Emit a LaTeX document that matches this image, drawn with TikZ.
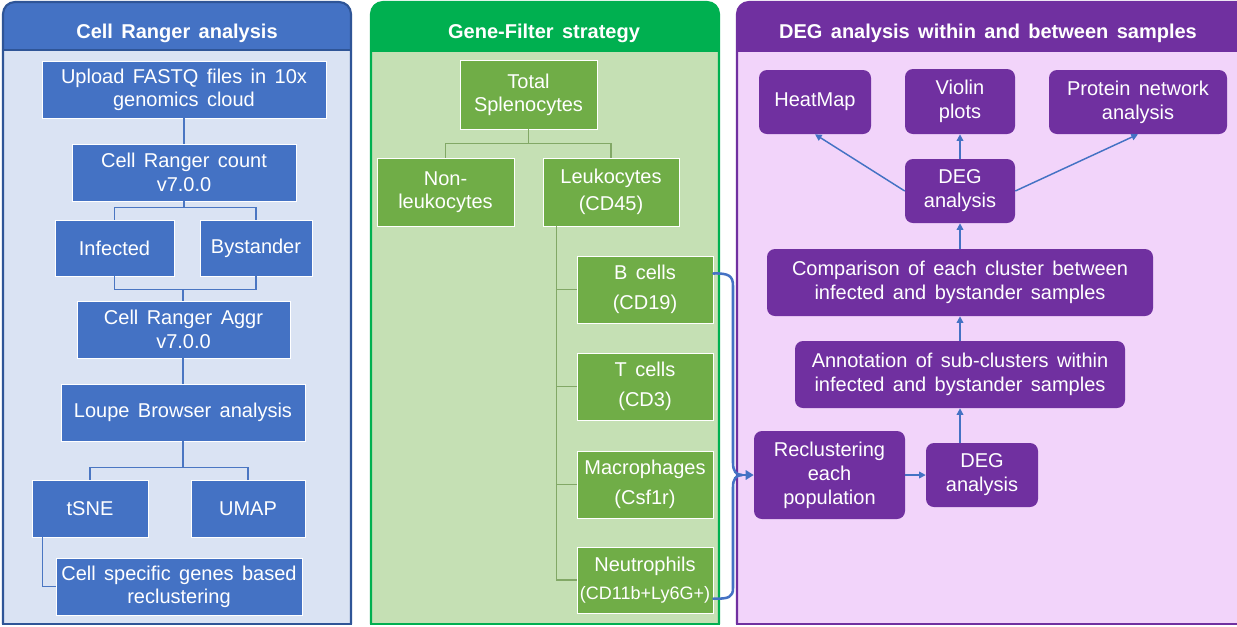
\documentclass[tikz,border=0pt]{standalone}
\usepackage{fontspec}
\setmainfont{Liberation Sans}
\usetikzlibrary{arrows.meta}

\definecolor{bHead}{HTML}{4472C4}
\definecolor{bBody}{HTML}{DAE3F3}
\definecolor{bEdge}{HTML}{2F5597}
\definecolor{bNode}{HTML}{4472C4}
\definecolor{bLine}{HTML}{4A76C2}
\definecolor{gHead}{HTML}{00B050}
\definecolor{gBody}{HTML}{C5E0B4}
\definecolor{gNode}{HTML}{70AD47}
\definecolor{gLine}{HTML}{82A866}
\definecolor{pHead}{HTML}{7030A0}
\definecolor{pBody}{HTML}{F2D4FA}
\definecolor{pNode}{HTML}{7030A0}
\definecolor{arrowBlue}{HTML}{4472C4}

% box placed by its corner coordinates: [style]{name}{x1}{y1}{x2}{y2}{text}
\newcommand\boxnode[7][]{%
  \node[#1, minimum width={(#5-#3)*0.75pt}, minimum height={(#6-#4)*0.75pt}]
    (#2) at ({(#3+#5)/2},{(#4+#6)/2}) {#7};}
% slightly wider word spacing
\newcommand\widewords{\spaceskip=0.42em plus 0.05em\relax}

\tikzset{
  headtext/.style={anchor=base, text=white, inner sep=0pt,
    font=\fontsize{15}{18}\selectfont\bfseries\widewords},
  basebox/.style={text=white, align=center, inner sep=0pt,
    font=\fontsize{15}{17.5}\selectfont\widewords},
  bluebox/.style={basebox, fill=bNode, draw=white, line width=0.6pt},
  greenbox/.style={basebox, fill=gNode, draw=white, line width=0.6pt},
  purplebox/.style={basebox, fill=pNode, rounded corners=6pt,
    font=\fontsize{15}{18}\selectfont\widewords},
  bconn/.style={draw=bLine, line width=0.8pt},
  gconn/.style={draw=gLine, line width=0.8pt},
  parrow/.style={draw=arrowBlue, line width=1.1pt,
    -{Triangle[length=5pt,width=5pt]}},
  bracepath/.style={draw=arrowBlue, line width=1.9pt, line cap=round},
}

\begin{document}
\begin{tikzpicture}[x=0.75pt, y=-0.75pt]
\useasboundingbox (0,0) rectangle (1237,626);
\clip (0,0) rectangle (1237,626);
\fill[white] (0,0) rectangle (1237,626);

% ---- panel 1: Cell Ranger analysis
\fill[bHead, rounded corners=9pt] (3,70) -- (3,2) -- (351,2) -- (351,70) -- cycle;
\fill[bBody] (3,50) rectangle (351,624);
\draw[bEdge, line width=1.4pt] (3,50) -- (351,50);
\draw[bEdge, line width=1.6pt, rounded corners=9pt] (3,624) -- (3,2) -- (351,2) -- (351,624);
\draw[bEdge, line width=1.6pt, line cap=rect] (3,624) -- (351,624);
\node[headtext] (h1) at (177,38) {Cell Ranger analysis};

% ---- panel 2: Gene-Filter strategy
\fill[gHead, rounded corners=9pt] (371,70) -- (371,2) -- (719,2) -- (719,70) -- cycle;
\fill[gBody] (371,52) rectangle (719,624);
\draw[gHead, line width=1.6pt, rounded corners=9pt] (371,624) -- (371,2) -- (719,2) -- (719,624);
\draw[gHead, line width=1.6pt, line cap=rect] (371,624) -- (719,624);
\node[headtext] (h2) at (544,38) {Gene-Filter strategy};

% ---- panel 3: DEG analysis
\fill[pHead, rounded corners=9pt] (737,70) -- (737,2) -- (1250,2) -- (1250,70) -- cycle;
\fill[pBody] (737,52) rectangle (1250,624);
\draw[pHead, line width=1.6pt, rounded corners=9pt] (737,624) -- (737,2) -- (1250,2) -- (1250,624);
\draw[pHead, line width=1.6pt, line cap=rect] (737,624) -- (1250,624);
\node[headtext] (h3) at (988,38) {DEG analysis within and between samples};

% ---- Cell Ranger boxes
\boxnode[bluebox]{up}{42}{61}{326}{118}{Upload FASTQ files in 10x\\genomics cloud}
\boxnode[bluebox]{count}{72}{144}{296}{201}{Cell Ranger count\\v7.0.0}
\boxnode[bluebox]{inf}{55}{220}{174}{276}{Infected}
\boxnode[bluebox]{bys}{200}{220}{312}{276}{Bystander}
\boxnode[bluebox]{aggr}{77}{301}{290}{358}{Cell Ranger Aggr\\v7.0.0}
\boxnode[bluebox]{loupe}{61}{384}{305}{441}{Loupe Browser analysis}
\boxnode[bluebox]{tsne}{32}{480}{148}{537}{tSNE}
\boxnode[bluebox]{umap}{191}{480}{305}{537}{UMAP}
\boxnode[bluebox]{cell}{56}{558}{302}{615}{Cell specific genes based\\reclustering}

\draw[bconn] (up.south) -- (up.south |- count.north);
\draw[bconn] (count.south) -- ++(0,6) coordinate (cfork);
\draw[bconn] (inf.north) |- (cfork) -| (bys.north);
\draw[bconn] (loupe.north |- aggr.north) -- ++(0,-11) coordinate (ajoin);
\draw[bconn] (inf.south) |- (ajoin) -| (bys.south);
\draw[bconn] (loupe.north |- aggr.south) -- (loupe.north);
\draw[bconn] (loupe.south) -- ++(0,26) coordinate (lfork);
\draw[bconn] (tsne.north) |- (lfork) -| (umap.north);
\draw[bconn] ([xshift=8.25pt]tsne.south west) |- (cell.west);

% ---- Gene-Filter boxes
\boxnode[greenbox]{total}{460}{60}{597}{129}{Total\\Splenocytes}
\boxnode[greenbox]{nonl}{377}{158}{514}{226}{Non-\\leukocytes}
\boxnode[greenbox]{leuk}{543}{158}{679}{226}{Leukocytes\\[3pt](CD45)}
\boxnode[greenbox]{bc}{577}{256}{713}{323}{B cells\\[5pt](CD19)}
\boxnode[greenbox]{tc}{577}{353}{713}{420}{T cells\\[5pt](CD3)}
\boxnode[greenbox]{mac}{577}{451}{713}{518}{Macrophages\\[5pt](Csf1r)}
\boxnode[greenbox]{neu}{577}{547}{713}{613}{Neutrophils\\[3pt]{\fontsize{13.5}{16}\selectfont(CD11b+Ly6G+)}}

\draw[gconn] (total.south) -- ++(0,14) coordinate (tfork);
\draw[gconn] (nonl.north) |- (tfork) -| (leuk.north);
\coordinate (trunk) at ([xshift=10.5pt]leuk.south west);
\draw[gconn] (trunk) |- (neu.west);
\draw[gconn] (trunk) |- (bc.west);
\draw[gconn] (trunk) |- (tc.west);
\draw[gconn] (trunk) |- (mac.west);

% ---- DEG boxes
\boxnode[purplebox]{heat}{759}{70}{871}{134}{HeatMap}
\boxnode[purplebox]{violin}{905}{69}{1015}{134}{Violin\\plots}
\boxnode[purplebox]{prot}{1049}{70}{1227}{134}{Protein network\\analysis}
\boxnode[purplebox]{deg1}{905}{159}{1015}{223}{DEG\\analysis}
\boxnode[purplebox]{comp}{767}{249}{1153}{316}{Comparison of each cluster between\\infected and bystander samples}
\boxnode[purplebox]{annot}{795}{341}{1125}{408}{Annotation of sub-clusters within\\infected and bystander samples}
\boxnode[purplebox]{recl}{754}{431}{905}{519}{Reclustering\\each\\population}
\boxnode[purplebox]{deg2}{926}{443}{1038}{507}{DEG\\analysis}

\draw[parrow] (deg1.west) -- (heat.south);
\draw[parrow] (deg1.north) -- (violin.south);
\draw[parrow] (deg1.east) -- (prot.south);
\draw[parrow] (comp.north) -- (deg1.south);
\draw[parrow] (annot.north) -- (comp.south);
\draw[parrow] (deg2.north -| annot.south) -- (annot.south);
\draw[parrow] (recl.east) -- (deg2.west);

% ---- brace gathering the four populations
\coordinate (btop) at ([yshift=12pt]bc.east);
\coordinate (bbot) at ([yshift=-14pt]neu.east);
\coordinate (btip) at (recl.west -| 742,0);
\draw[bracepath] (btop) .. controls (729,273) and (733,276) .. (733,286)
  -- (733,463) .. controls (733,471) and (736,475) .. (btip);
\draw[bracepath] (btip) .. controls (736,475) and (733,479) .. (733,487)
  -- (733,588) .. controls (733,597) and (729,599) .. (bbot);
\draw[bracepath, -{Triangle[length=6pt,width=7pt]}] (btip) -- (recl.west);

\end{tikzpicture}
\end{document}
